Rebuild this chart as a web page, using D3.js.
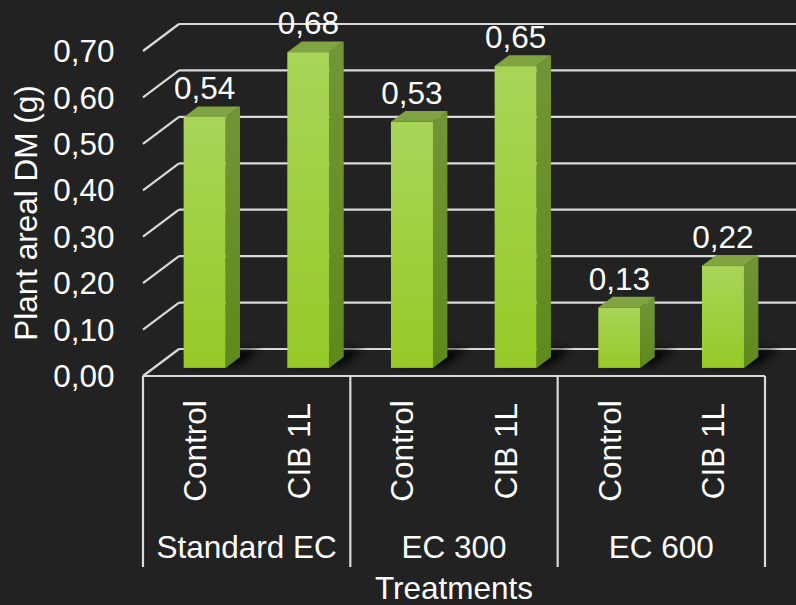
<!DOCTYPE html>
<html>
<head>
<meta charset="utf-8">
<script src="https://cdn.jsdelivr.net/npm/d3@7/dist/d3.min.js"></script>
<style>
  html, body { margin: 0; padding: 0; background: #222222; }
  svg { display: block; }
  text { font-family: "Liberation Sans", Arial, sans-serif; fill: #ffffff; }
</style>
</head>
<body>
<svg id="chart" width="796" height="605"></svg>
<script>
// Plant areal dry matter per treatment
const groups = ["Standard EC", "EC 300", "EC 600"];
const treatments = ["Control", "CIB 1L"];
const values = [0.54, 0.68, 0.53, 0.65, 0.13, 0.22];
const yTicks = [0, 0.1, 0.2, 0.3, 0.4, 0.5, 0.6, 0.7];
const yTitle = "Plant areal DM (g)";
const xTitle = "Treatments";

const W = 796, H = 605;
const FONT = 31.5;
const left = 143, right = 765, floorY = 376, topY = 51;
// oblique depth of the 3D box
const DX = 36, DY = -27;
const barFront = 0.3, barBack = 0.7, barW = 42;

const svg = d3.select("#chart");

const rows = [];
groups.forEach((g, gi) => treatments.forEach((t, ti) => {
  rows.push({ key: g + "|" + t, group: g, treat: t, value: values[gi * treatments.length + ti] });
}));

const x = d3.scaleBand().domain(rows.map(d => d.key)).range([left, right]).padding(0);
const xg = d3.scaleBand().domain(groups).range([left, right]).padding(0);
const y = d3.scaleLinear().domain([0, 0.7]).range([floorY, topY]);
const fmt = v => d3.format(".2f")(v).replace(".", ",");

const defs = svg.append("defs");
const gFront = defs.append("linearGradient").attr("id", "front").attr("x1", 0).attr("y1", 0).attr("x2", 0).attr("y2", 1);
gFront.append("stop").attr("offset", "0%").attr("stop-color", "#a8d558");
gFront.append("stop").attr("offset", "100%").attr("stop-color", "#96c927");
const gSide = defs.append("linearGradient").attr("id", "side").attr("x1", 0).attr("y1", 0).attr("x2", 0).attr("y2", 1);
gSide.append("stop").attr("offset", "0%").attr("stop-color", "#729636");
gSide.append("stop").attr("offset", "100%").attr("stop-color", "#5e8a1b");
defs.append("filter").attr("id", "blur").attr("x", "-50%").attr("y", "-50%").attr("width", "200%").attr("height", "200%")
  .append("feGaussianBlur").attr("stdDeviation", 4);

const lineColor = "#d9d9d9";

// back wall and left wall gridlines
const grid = svg.append("g").attr("stroke", lineColor).attr("stroke-width", 2.2).attr("fill", "none");
yTicks.forEach(v => {
  grid.append("line").attr("x1", left + DX).attr("x2", W + 2)
    .attr("y1", y(v) + DY).attr("y2", y(v) + DY);
  grid.append("line").attr("x1", left).attr("y1", y(v))
    .attr("x2", left + DX).attr("y2", y(v) + DY);
});

// soft floor shadows behind each bar
const pt = (px, py) => px + "," + py;
svg.append("g").attr("filter", "url(#blur)")
  .selectAll("polygon").data(rows).join("polygon")
  .attr("fill", "#000").attr("opacity", 0.85)
  .attr("points", d => {
    const cx = x(d.key) + x.bandwidth() / 2 - 1;
    const x0 = cx - barW / 2 + 4, x1 = cx + barW / 2 + 10;
    const f0 = barFront + 0.05, f1 = 1;
    return [pt(x0 + DX * f0, floorY + DY * f0), pt(x1 + DX * f0, floorY + DY * f0),
            pt(x1 + DX * f1, floorY + DY * f1), pt(x0 + DX * f1, floorY + DY * f1)].join(" ");
  });

// floor front edge
svg.append("line").attr("x1", left).attr("x2", right).attr("y1", floorY).attr("y2", floorY)
  .attr("stroke", lineColor).attr("stroke-width", 2.2);

// bars
const bars = svg.append("g").selectAll("g").data(rows).join("g");
bars.each(function(d) {
  const g = d3.select(this);
  const cx = x(d.key) + x.bandwidth() / 2 - 1;
  const fx = cx - barW / 2 + DX * barFront;
  const fBottom = y(0) + DY * barFront;
  const fTop = y(d.value) + DY * barFront;
  const ddx = DX * (barBack - barFront), ddy = DY * (barBack - barFront);
  g.append("polygon").attr("fill", "url(#side)")
    .attr("points", [pt(fx + barW, fTop), pt(fx + barW + ddx, fTop + ddy),
                     pt(fx + barW + ddx, fBottom + ddy), pt(fx + barW, fBottom)].join(" "));
  g.append("polygon").attr("fill", "#80a442")
    .attr("points", [pt(fx, fTop), pt(fx + ddx, fTop + ddy),
                     pt(fx + barW + ddx, fTop + ddy), pt(fx + barW, fTop)].join(" "));
  g.append("rect").attr("x", fx).attr("y", fTop).attr("width", barW).attr("height", fBottom - fTop)
    .attr("fill", "url(#front)");
  g.append("text").attr("x", fx + barW / 2).attr("y", fTop - 18)
    .attr("text-anchor", "middle").attr("font-size", FONT).text(fmt(d.value));
});

// y axis tick labels
const yAxis = svg.append("g").attr("transform", "translate(114.5,0.6)")
  .call(d3.axisLeft(y).tickValues(yTicks).tickFormat(fmt).tickSize(0).tickPadding(0));
yAxis.select(".domain").remove();
yAxis.attr("font-size", FONT).attr("font-family", null);
yAxis.selectAll("text").attr("fill", "#ffffff");

// y axis title
svg.append("text").attr("transform", "translate(37,213) rotate(-90)")
  .attr("text-anchor", "middle").attr("font-size", FONT).text(yTitle);

// category separators below the floor
const seps = [left].concat(groups.map(g => xg(g) + xg.bandwidth()));
svg.append("g").selectAll("line").data(seps).join("line")
  .attr("x1", d => d).attr("x2", d => d).attr("y1", floorY).attr("y2", 567)
  .attr("stroke", lineColor).attr("stroke-width", 2.2);

// treatment labels
svg.append("g").selectAll("text").data(rows).join("text")
  .attr("transform", d => "translate(" + (x(d.key) + x.bandwidth() / 2 + 11) + ",451) rotate(-90)")
  .attr("text-anchor", "middle").attr("font-size", FONT).text(d => d.treat);

// group labels
svg.append("g").selectAll("text").data(groups).join("text")
  .attr("x", d => xg(d) + xg.bandwidth() / 2).attr("y", 558)
  .attr("text-anchor", "middle").attr("font-size", FONT).text(d => d);

// x axis title
svg.append("text").attr("x", (left + right) / 2).attr("y", 599)
  .attr("text-anchor", "middle").attr("font-size", FONT).text(xTitle);
</script>
</body>
</html>
